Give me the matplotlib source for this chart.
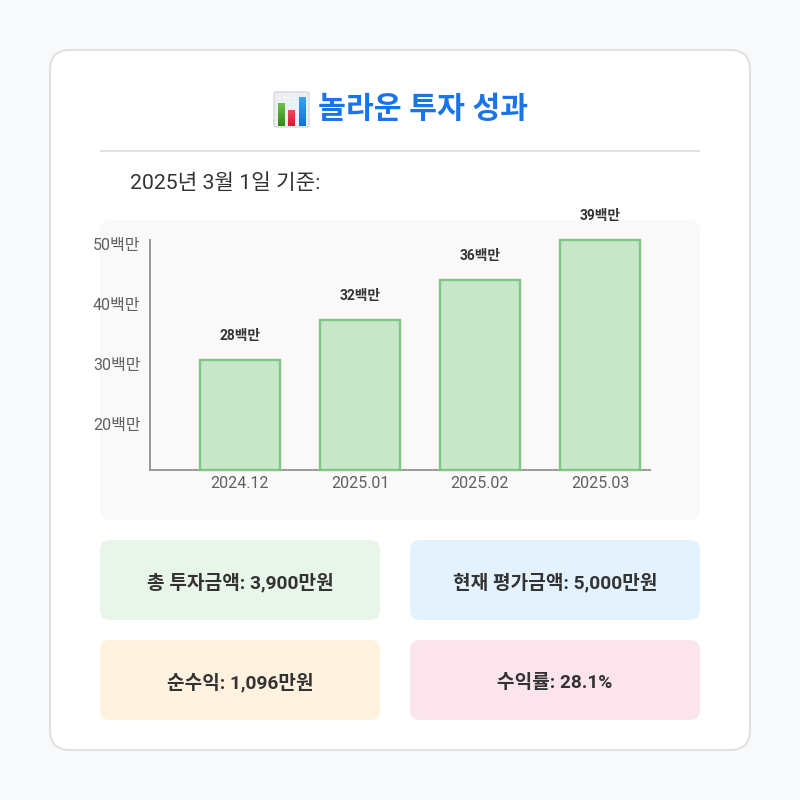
import numpy as np
import matplotlib
matplotlib.use("Agg")
import matplotlib.pyplot as plt
from matplotlib.patches import FancyBboxPatch
from matplotlib.colors import LinearSegmentedColormap
from matplotlib.transforms import ScaledTranslation

plt.rcParams["font.family"] = ["Roboto", "Noto Sans CJK KR", "DejaVu Sans"]

# bar heights; the printed labels don't follow them
months = ["2024.12", "2025.01", "2025.02", "2025.03"]
bar_heights = [30.0, 36.67, 43.33, 50.0]
bar_labels = ["28백만", "32백만", "36백만", "39백만"]
y_ticks = [20, 30, 40, 50]
y_tick_labels = ["20백만", "30백만", "40백만", "50백만"]
y_floor = 11.67

title = "놀라운 투자 성과"
subtitle = "2025년 3월 1일 기준:"
box_texts = ["총 투자금액: 3,900만원", "현재 평가금액: 5,000만원",
             "순수익: 1,096만원", "수익률: 28.1%"]
box_colors = ["#e8f5e9", "#e3f2fd", "#fff3e0", "#fce4ec"]


def px(v):
    # css pixels -> points at dpi 100
    return v * 0.72


def rounded(ax, x0, y0, x1, y1, r, fc, ec="none", lw=0, z=1):
    ax.add_patch(FancyBboxPatch((x0 + r, y0 + r), x1 - x0 - 2 * r, y1 - y0 - 2 * r,
                                boxstyle=f"round,pad={r},rounding_size={r}",
                                fc=fc, ec=ec, lw=lw, zorder=z))


def emoji_bar(ax, x0, x1, y0, y1, top, bottom):
    cmap = LinearSegmentedColormap.from_list("g", [top, bottom])
    ax.imshow(np.linspace(0, 1, 32)[:, None], cmap=cmap, extent=(x0, x1, y1, y0),
              aspect="auto", zorder=5, interpolation="bilinear")


fig = plt.figure(figsize=(8, 8), dpi=100, facecolor="#f8f9fa")

# page layer in pixel coordinates
bg = fig.add_axes([0, 0, 1, 1])
bg.axis("off")
rounded(bg, 50, 50, 750, 750, 20, "white", "#e0e0e0", px(2))
rounded(bg, 100, 220, 700, 520, 10, "#f9f9f9", z=2)
bg.plot([100, 700], [151, 151], color="#e0e0e0", lw=px(2), zorder=2,
        solid_capstyle="butt")

# no emoji font here, so the chart icon is drawn by hand
rounded(bg, 274, 92, 309, 127, 2, "#eceef1", "#c9cdd2", px(1), z=4)
for g in range(279, 309, 5):
    bg.plot([g, g], [93, 126], color="#f6f7f9", lw=px(0.7), zorder=4)
for g in range(97, 127, 5):
    bg.plot([275, 308], [g, g], color="#f6f7f9", lw=px(0.7), zorder=4)
emoji_bar(bg, 278, 285, 103, 126, "#6cc24a", "#2e8b12")
emoji_bar(bg, 288, 295, 110, 126, "#f0485c", "#e3122e")
emoji_bar(bg, 299, 306, 97, 126, "#35a4f4", "#1272d6")

bg.text(318, 110, title, ha="left", va="center", fontsize=px(30.3),
        fontweight="bold", color="#1a73e8", zorder=6)
bg.text(130, 183.5, subtitle, ha="left", va="center", fontsize=px(21.3), color="#333333",
        zorder=6)

box_pos = [(100, 540, 280), (410, 540, 290), (100, 640, 280), (410, 640, 290)]
for (bx, by, bw), txt, col in zip(box_pos, box_texts, box_colors):
    rounded(bg, bx, by, bx + bw, by + 80, 10, col, z=2)
    bg.text(bx + bw / 2, by + 43, txt, ha="center", va="center", fontsize=px(19.1),
            fontweight="bold", color="#333333", zorder=6)

bg.set_xlim(0, 800)
bg.set_ylim(800, 0)

# bar chart: plot area spans x 150-650, y 240-470 px
ax = fig.add_axes([150 / 800, 1 - 470 / 800, 500 / 800, 230 / 800])
ax.patch.set_alpha(0)
xs = np.arange(len(months))
# axis doesn't start at zero, bars stand on the floor value
ax.bar(xs, np.array(bar_heights) - y_floor, bottom=y_floor, width=80 / 120,
       color="#c8e6c9", edgecolor="#81c784", linewidth=px(2.4), zorder=3, clip_on=False)
ax.set_xlim(-0.75, 3.4167)
ax.set_ylim(y_floor, 50)
for s in ("top", "right"):
    ax.spines[s].set_visible(False)
for s in ("left", "bottom"):
    ax.spines[s].set_color("#999999")
    ax.spines[s].set_linewidth(px(2))
    ax.spines[s].set_zorder(2)
ax.set_xticks(xs, months)
ax.set_yticks(y_ticks, y_tick_labels)
ax.tick_params(length=0, labelsize=px(16), labelcolor="#606060")
ax.tick_params(axis="x", pad=px(6))
ax.tick_params(axis="y", pad=px(9.5))
shift = ScaledTranslation(0, -4 / 100, fig.dpi_scale_trans)
for lab in ax.get_yticklabels():
    lab.set_transform(lab.get_transform() + shift)
for x, h, lab in zip(xs, bar_heights, bar_labels):
    ax.annotate(lab, (x, h), xytext=(0, px(24)), textcoords="offset points",
                ha="center", va="center", fontsize=px(13.8), fontweight="bold",
                color="#333333", annotation_clip=False)

fig.savefig("out.png", dpi=100, facecolor=fig.get_facecolor())
